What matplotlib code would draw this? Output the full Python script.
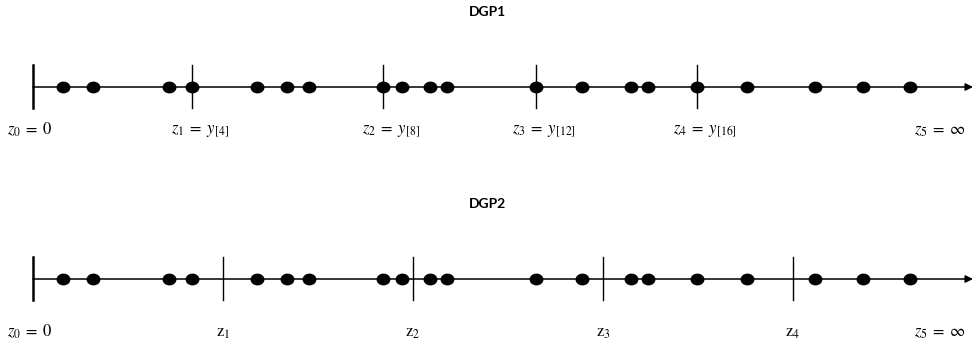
import matplotlib

matplotlib.use("Agg")

import matplotlib.pyplot as plt
from matplotlib.markers import MarkerStyle
from matplotlib.transforms import Affine2D

plt.rcParams["mathtext.fontset"] = "stix"

# observed points (same sample in both panels)
obs = [30, 60, 136, 159, 224, 254, 276, 350, 369, 397, 414,
       503, 549, 598, 615, 664, 714, 782, 830, 877]

# cut points
cuts_dgp1 = [159, 350, 503, 664]          # order statistics y[4], y[8], y[12], y[16]
cuts_dgp2 = [190, 380, 570, 760]          # equally spaced
labels_dgp1 = [r"$z_1\;=\;y_{[4]}$", r"$z_2\;=\;y_{[8]}$",
               r"$z_3\;=\;y_{[12]}$", r"$z_4\;=\;y_{[16]}$"]
labels_dgp2 = [r"$\mathrm{z}_1$", r"$\mathrm{z}_2$", r"$\mathrm{z}_3$", r"$\mathrm{z}_4$"]
titles = ["DGP1", "DGP2"]

X_END = 940
DOT = MarkerStyle("o", transform=Affine2D().scale(1.2, 1.0))


def draw_row(ax, y0, title, cuts, labels, label_dx, label_dy):
    ax.text(454, y0 - 75, title, ha="center", va="center",
            fontsize=10, fontweight="bold", family="Lato")
    ax.annotate("", xy=(X_END, y0), xytext=(0, y0),
                arrowprops=dict(arrowstyle="-|>", color="black", lw=1.1,
                                mutation_scale=11, shrinkA=0, shrinkB=0))
    ax.plot([0, 0], [y0 - 22, y0 + 21], color="black", lw=1.8)
    for c in cuts:
        ax.plot([c, c], [y0 - 22, y0 + 21], color="black", lw=1.0)
    ax.plot(obs, [y0] * len(obs), linestyle="none", marker=DOT,
            color="black", markersize=7.5)
    ly = y0 + label_dy
    ax.text(-3, ly, r"$z_0\;=\;0$", ha="center", va="center", fontsize=12)
    for c, lab in zip(cuts, labels):
        ax.text(c + label_dx, ly, lab, ha="center", va="center", fontsize=12)
    ax.text(907, ly, r"$z_5\;=\;\infty$", ha="center", va="center", fontsize=12)


fig = plt.figure(figsize=(9.75, 3.45), dpi=100)
ax = fig.add_axes([0, 0, 1, 1])
ax.set_xlim(-33, 942)
ax.set_ylim(345, 0)
ax.axis("off")

draw_row(ax, 87, titles[0], cuts_dgp1, labels_dgp1, 8, 43)
draw_row(ax, 279, titles[1], cuts_dgp2, labels_dgp2, 0, 53)

fig.savefig("out.png", dpi=100)
plt.close(fig)
